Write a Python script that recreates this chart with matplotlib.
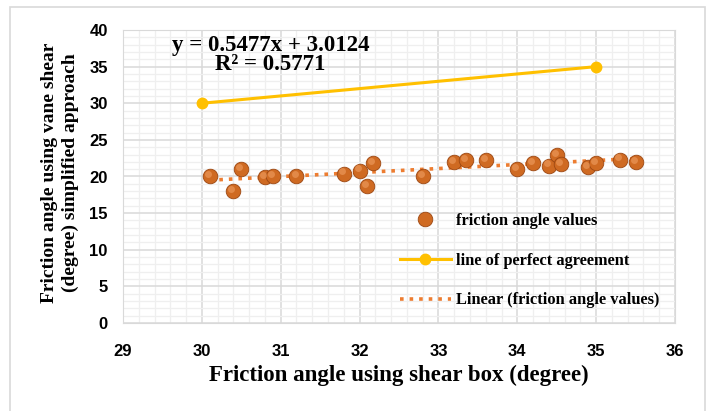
import numpy as np
import matplotlib
matplotlib.use("Agg")
import matplotlib.pyplot as plt
from matplotlib.patches import Rectangle
from matplotlib.ticker import MultipleLocator

# friction angle values
shear_box = [30.1, 30.4, 30.5, 30.8, 30.9, 31.2, 31.8, 32.0, 32.1, 32.17,
             32.8, 33.2, 33.35, 33.6, 34.0, 34.2, 34.4, 34.5, 34.55, 34.9,
             35.0, 35.3, 35.5]
vane_shear = [20.0, 18.0, 21.0, 19.9, 20.0, 20.0, 20.4, 20.8, 18.7, 21.8,
              20.0, 22.0, 22.2, 22.2, 21.0, 21.8, 21.5, 22.9, 21.7, 21.3,
              21.8, 22.3, 22.0]

# line of perfect agreement
perfect_x = [30, 35]
perfect_y = [30, 35]

# trendline given on the chart
slope, intercept = 0.5477, 3.0124
r2 = 0.5771

serif = ['Liberation Serif', 'DejaVu Serif']
sans = ['Liberation Sans', 'DejaVu Sans']

fig = plt.figure(figsize=(7.1, 4.11), dpi=100)
ax = fig.add_axes([123 / 710, 1 - 323 / 411, 552 / 710, 293 / 411])

# outer chart frame
fig.patches.append(Rectangle((10 / 710, -0.05), 695 / 710, 1 - 7 / 411 + 0.05,
                             transform=fig.transFigure, fill=False,
                             edgecolor='#D9D9D9', linewidth=1.2))

ax.set_xlim(29, 36)
ax.set_ylim(0, 40)
ax.xaxis.set_major_locator(MultipleLocator(1))
ax.yaxis.set_major_locator(MultipleLocator(5))
ax.xaxis.set_minor_locator(MultipleLocator(0.2))
ax.yaxis.set_minor_locator(MultipleLocator(1))
ax.set_xticks(np.arange(29, 37))
ax.set_yticks(np.arange(0, 41, 5))
ax.set_xticklabels([str(v) for v in range(29, 37)], fontfamily=sans,
                   fontweight='bold', fontsize=12)
ax.set_yticklabels([str(v) for v in range(0, 41, 5)], fontfamily=sans,
                   fontweight='bold', fontsize=12)
ax.grid(which='major', color='#D9D9D9', linewidth=1.1, zorder=0)
ax.grid(which='minor', color='#EFEFEF', linewidth=0.9, zorder=0)
ax.set_axisbelow(True)
for s in ax.spines.values():
    s.set_color('#D9D9D9')
ax.tick_params(which='both', length=0)
ax.tick_params(axis='x', pad=15)
ax.tick_params(axis='y', pad=11)

# scatter points (shaded spheres)
pts, = ax.plot(shear_box, vane_shear, 'o', markersize=10.5, markerfacecolor='#CF6A22',
               markeredgecolor='#9C4712', markeredgewidth=0.6, zorder=4)
ax.plot(np.array(shear_box) - 0.025, np.array(vane_shear) + 0.3, 'o',
        markersize=5, markerfacecolor='#F2A468', markeredgewidth=0,
        alpha=0.55, zorder=5)

perf, = ax.plot(perfect_x, perfect_y, '-o', color='#FFC000', linewidth=2.2,
                markersize=7.5, zorder=3)

tx = np.array([min(shear_box), max(shear_box)])
trend, = ax.plot(tx, slope * tx + intercept, ':', color='#ED7D31', linewidth=2.6,
                 zorder=3)

fig.text(271 / 710, 1 - 45 / 411, 'y = %.4fx + %.4f' % (slope, intercept),
         ha='center', va='center', fontfamily=serif, fontweight='bold', fontsize=16.5)
fig.text(270 / 710, 1 - 65 / 411, 'R² = %.4f' % r2, ha='center', va='center',
         fontfamily=serif, fontweight='bold', fontsize=16.5)

leg = ax.legend([pts, perf, trend],
                ['friction angle values', 'line of perfect agreement',
                 'Linear (friction angle values)'],
                loc='upper left', bbox_to_anchor=(385 / 710, 1 - 198 / 411),
                bbox_transform=fig.transFigure, frameon=False,
                prop={'family': serif, 'weight': 'bold', 'size': 11.8},
                labelspacing=1.45, handlelength=3.1, handletextpad=0.35)

ax.set_xlabel('Friction angle using shear box (degree)', fontfamily=serif,
              fontweight='bold', fontsize=16.5, labelpad=4)
fig.text(60 / 710, 1 - 173 / 411,
         'Friction angle using vane shear\n(degree) simplified approach',
         rotation=90, ha='center', va='center', fontfamily=serif,
         fontweight='bold', fontsize=14, linespacing=1.3)

fig.savefig('out.png', dpi=100)
